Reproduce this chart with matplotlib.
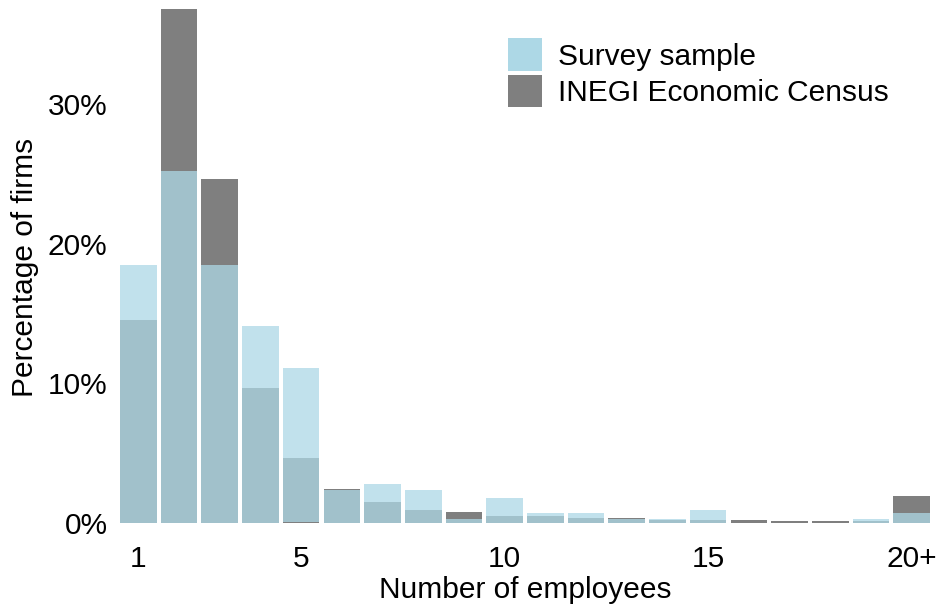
import matplotlib
matplotlib.use('Agg')
import matplotlib.pyplot as plt
from matplotlib.patches import Patch

plt.rcParams['font.family'] = ['Liberation Sans', 'DejaVu Sans']

# employees bins 1..20+ (20 = "20+")
employees = list(range(1, 21))
survey = [18.5, 25.2, 18.5, 14.1, 11.1, 2.36, 2.8, 2.36, 0.27, 1.77,
          0.69, 0.69, 0.26, 0.27, 0.91, 0.0, 0.0, 0.0, 0.26, 0.69]
census = [14.5, 36.8, 24.6, 9.7, 4.65, 2.43, 1.5, 0.93, 0.78, 0.48,
          0.48, 0.33, 0.33, 0.25, 0.19, 0.19, 0.15, 0.12, 0.12, 1.9]
# small census sliver that shows over the survey bar at 5
sliver_x = [5]
sliver_y = [0.1]
xticks = [1, 5, 10, 15, 20]
xticklabels = ['1', '5', '10', '15', '20+']
yticks = [0, 10, 20, 30]

blue = '#add8e6'
gray = '#7f7f7f'
fs = 21.5

fig = plt.figure(figsize=(9.41, 6.09), dpi=100)
ax = fig.add_axes([120/941, 86/609, 810/941, (523-9)/609])

# census underneath, survey on top with transparency
ax.bar(employees, census, width=0.9, color=gray, linewidth=0)
ax.bar(employees, survey, width=0.9, color=blue, alpha=0.75, linewidth=0)
ax.bar(sliver_x, sliver_y, width=0.9, color=gray, linewidth=0)

ax.set_xlim(0.55, 20.45)
ax.set_ylim(0, 36.8)
ax.set_xticks(xticks)
ax.set_xticklabels(xticklabels)
ax.set_yticks(yticks)
ax.set_yticklabels([f'{t}%' for t in yticks])
ax.tick_params(axis='x', length=0, pad=15.5, labelsize=fs, labelcolor='black')
ax.tick_params(axis='y', length=0, pad=9, labelsize=fs, labelcolor='black')
for s in ax.spines.values():
    s.set_visible(False)

fig.text(525/941, 1 - 590/609, 'Number of employees', fontsize=fs,
         color='black', ha='center', va='center')
fig.text(25/941, 1 - 267/609, 'Percentage of firms', rotation=90, fontsize=fs,
         color='black', ha='center', va='center')

handles = [Patch(facecolor=blue, edgecolor='none', label='Survey sample'),
           Patch(facecolor=gray, edgecolor='none', label='INEGI Economic Census')]
fig.legend(handles=handles, loc='upper left', bbox_to_anchor=(501/941, 1 - 31/609),
           frameon=False, fontsize=fs, handlelength=1.12, handleheight=1.3,
           labelspacing=0.12, handletextpad=0.55, borderaxespad=0, borderpad=0.25)

fig.savefig('out.png', dpi=100)
